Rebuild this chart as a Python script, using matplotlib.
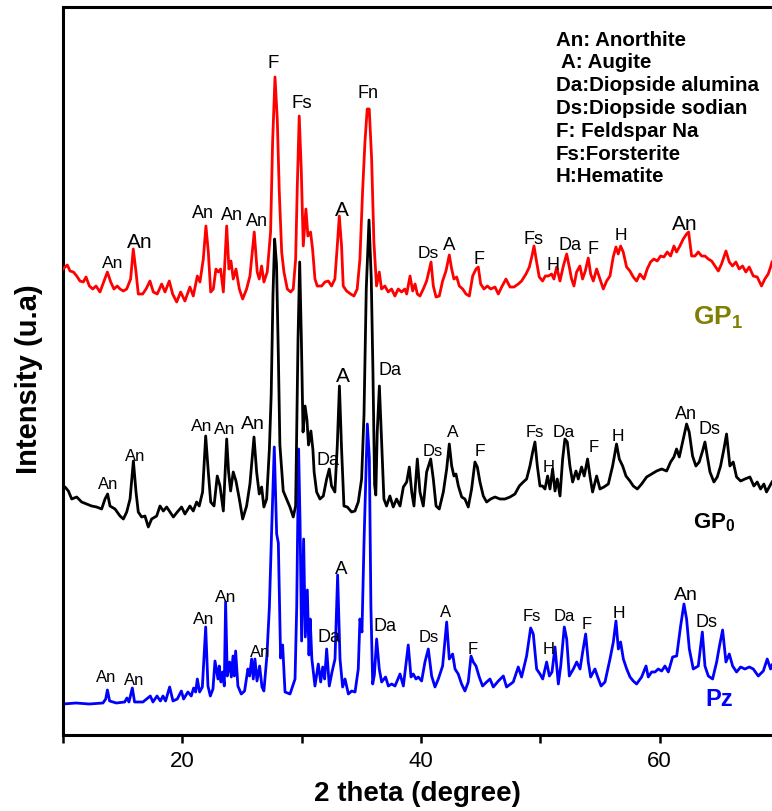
import matplotlib
matplotlib.use("Agg")
from matplotlib import pyplot as plt

plt.rcParams["font.family"] = "Liberation Sans"
plt.rcParams["mathtext.fontset"] = "custom"
plt.rcParams["mathtext.rm"] = "Liberation Sans"
plt.rcParams["mathtext.bf"] = "Liberation Sans:bold"

# ---- XRD traces (2 theta in degree, stacked intensity in a.u.) ----
pz_theta = [
    10.0, 11.1, 12.2, 13.35, 13.58, 13.72, 13.91, 14.47, 15.17, 15.36, 15.53, 15.81, 16.0, 16.7,
    17.32, 17.54, 17.88, 18.16, 18.38, 18.6, 18.94, 19.22, 19.58, 19.92, 20.11, 20.47, 20.75,
    20.95, 21.12, 21.26, 21.45, 21.68, 21.96, 22.15, 22.35, 22.57, 22.74, 22.88, 22.99, 23.1,
    23.24, 23.38, 23.52, 23.63, 23.77, 23.97, 24.11, 24.25, 24.36, 24.47, 24.66, 24.94, 25.22,
    25.5, 25.64, 25.81, 25.95, 26.09, 26.26, 26.48, 26.68, 26.84, 27.09, 27.3, 27.49, 27.71,
    27.91, 28.05, 28.24, 28.41, 28.61, 29.03, 29.45, 29.59, 29.75, 29.87, 30.0, 30.17, 30.31,
    30.48, 30.62, 30.72, 30.86, 31.12, 31.4, 31.6, 31.77, 31.93, 32.1, 32.32, 32.55, 32.8,
    33.02, 33.22, 33.44, 33.64, 33.92, 34.2, 34.48, 34.75, 34.89, 35.06, 35.23, 35.51, 35.68,
    35.81, 35.96, 36.1, 36.29, 36.51, 36.71, 37.04, 37.27, 37.55, 37.83, 38.25, 38.53, 38.94,
    39.17, 39.36, 39.59, 39.78, 40.06, 40.34, 40.62, 40.9, 41.18, 41.46, 41.82, 42.16, 42.38,
    42.66, 42.86, 43.13, 43.41, 43.69, 43.97, 44.2, 44.39, 44.62, 44.89, 45.17, 45.51, 45.79,
    46.07, 46.49, 46.91, 47.18, 47.74, 48.16, 48.44, 48.86, 49.2, 49.42, 49.7, 49.98, 50.21,
    50.54, 50.77, 50.99, 51.24, 51.52, 51.72, 52.02, 52.22, 52.44, 52.78, 53.06, 53.34, 53.56,
    53.81, 54.03, 54.23, 54.59, 54.82, 55.1, 55.43, 55.85, 56.13, 56.35, 56.55, 56.74, 56.97,
    57.25, 57.53, 57.8, 58.08, 58.5, 58.87, 59.06, 59.34, 59.62, 59.9, 60.18, 60.46, 60.74,
    61.1, 61.44, 61.77, 62.05, 62.27, 62.5, 62.83, 63.25, 63.59, 63.81, 64.09, 64.45, 64.79,
    65.01, 65.29, 65.57, 65.85, 66.13, 66.46, 66.8, 67.16, 67.53, 67.86, 68.28, 68.7, 69.03,
    69.31, 69.43,
]
pz_int = [
    31, 32, 31, 32, 36, 45, 34, 32, 33, 37, 33, 47, 33, 33,
    39, 33, 39, 34, 39, 34, 48, 34, 36, 44, 36, 43, 39,
    47, 43, 56, 43, 48, 108, 49, 39, 46, 74, 64, 56, 69,
    53, 63, 49, 133, 59, 73, 58, 79, 59, 84, 49, 41, 44,
    66, 59, 76, 56, 76, 54, 69, 48, 44, 79, 128, 205, 288,
    201, 192, 77, 90, 43, 41, 56, 128, 286, 213, 94, 196, 98,
    145, 80, 116, 76, 49, 71, 53, 68, 56, 86, 49, 63, 76,
    160, 76, 48, 56, 41, 44, 43, 66, 116, 103, 192, 311, 277,
    128, 51, 60, 96, 66, 53, 58, 49, 51, 49, 61, 49, 90,
    58, 61, 56, 58, 54, 73, 86, 59, 48, 56, 69, 113, 76,
    81, 66, 61, 51, 44, 53, 79, 73, 69, 58, 49, 53, 56,
    48, 54, 59, 48, 53, 68, 58, 79, 107, 101, 66, 61, 56,
    73, 59, 63, 88, 51, 69, 108, 96, 59, 66, 73, 66, 83,
    101, 73, 58, 66, 58, 49, 53, 76, 93, 114, 86, 93, 76,
    66, 58, 54, 51, 58, 69, 58, 63, 63, 66, 64, 69, 63,
    78, 79, 109, 131, 116, 86, 66, 69, 103, 69, 59, 56, 73,
    88, 105, 73, 81, 69, 63, 68, 66, 68, 66, 59, 64, 76,
    66, 70,
]

gp0_theta = [
    10.0, 10.17, 10.45, 10.73, 11.15, 11.56, 11.98, 12.4, 12.82, 13.24, 13.52, 13.74, 13.94,
    14.36, 14.78, 15.06, 15.34, 15.62, 15.9, 16.12, 16.31, 16.59, 16.87, 17.15, 17.43, 17.85,
    18.13, 18.41, 18.69, 18.97, 19.25, 19.58, 19.94, 20.22, 20.64, 20.92, 21.2, 21.42, 21.7,
    21.96, 22.18, 22.38, 22.66, 22.93, 23.16, 23.44, 23.72, 23.88, 24.05, 24.27, 24.5, 24.78,
    25.06, 25.39, 25.67, 26.01, 26.23, 26.45, 26.65, 26.84, 27.07, 27.3, 27.45, 27.6, 27.74,
    27.9, 28.05, 28.18, 28.46, 28.74, 29.02, 29.3, 29.5, 29.7, 29.84, 29.98, 30.12, 30.29,
    30.45, 30.58, 30.78, 30.95, 31.05, 31.26, 31.54, 31.82, 32.1, 32.32, 32.51, 32.79, 32.99,
    33.17, 33.35, 33.55, 33.83, 34.19, 34.47, 34.75, 35.03, 35.23, 35.42, 35.65, 35.84, 35.98,
    36.12, 36.22, 36.34, 36.52, 36.7, 36.9, 37.12, 37.4, 37.68, 37.96, 38.25, 38.53, 38.81,
    39.03, 39.23, 39.42, 39.7, 39.92, 40.2, 40.48, 40.82, 41.04, 41.27, 41.54, 41.88, 42.16,
    42.38, 42.58, 42.77, 42.94, 43.14, 43.42, 43.69, 43.97, 44.25, 44.53, 44.73, 44.95, 45.23,
    45.51, 45.85, 46.21, 46.63, 47.05, 47.47, 47.88, 48.25, 48.58, 48.86, 49.14, 49.37, 49.56,
    49.76, 49.98, 50.2, 50.4, 50.62, 50.82, 51.04, 51.24, 51.43, 51.66, 51.88, 52.07, 52.27,
    52.49, 52.72, 53.0, 53.19, 53.47, 53.69, 53.97, 54.17, 54.39, 54.73, 55.01, 55.34, 55.71,
    56.07, 56.4, 56.63, 56.91, 57.19, 57.52, 57.8, 58.14, 58.5, 58.92, 59.34, 59.76, 60.18,
    60.6, 60.93, 61.21, 61.43, 61.66, 61.94, 62.27, 62.49, 62.77, 63.05, 63.33, 63.61, 63.81,
    64.0, 64.23, 64.56, 64.84, 65.12, 65.4, 65.62, 65.9, 66.18, 66.46, 66.8, 67.16, 67.58,
    67.91, 68.19, 68.47, 68.75, 68.97, 69.25, 69.43,
]
gp0_int = [
    246, 248, 244, 236, 238, 233, 231, 229, 228, 226, 236, 241, 229,
    226, 219, 216, 223, 236, 274, 243, 223, 218, 219, 208, 216, 219,
    229, 224, 228, 223, 218, 223, 228, 221, 229, 224, 233, 229, 243,
    299, 263, 233, 229, 259, 249, 224, 296, 263, 244, 263, 254, 236,
    216, 229, 251, 298, 263, 241, 248, 228, 236, 286, 340, 440, 496,
    470, 380, 290, 244, 236, 228, 218, 229, 396, 473, 396, 303, 329,
    315, 290, 304, 285, 263, 243, 236, 239, 256, 266, 249, 243, 289,
    349, 286, 229, 228, 223, 224, 233, 256, 320, 446, 515, 456, 363,
    250, 240, 303, 349, 296, 236, 229, 239, 228, 236, 229, 248, 253,
    268, 243, 229, 276, 243, 229, 263, 276, 256, 229, 226, 243, 266,
    291, 269, 259, 261, 249, 238, 236, 228, 246, 273, 268, 253, 239,
    233, 236, 238, 236, 236, 238, 241, 249, 253, 256, 269, 283, 293,
    269, 249, 249, 246, 259, 246, 266, 244, 256, 239, 276, 296, 293,
    269, 253, 264, 256, 268, 259, 276, 259, 243, 259, 246, 248, 251,
    269, 291, 276, 269, 259, 254, 249, 246, 251, 258, 261, 264, 266,
    264, 273, 278, 286, 278, 293, 311, 303, 279, 269, 273, 284, 293,
    279, 263, 253, 258, 269, 286, 301, 269, 273, 258, 254, 256, 258,
    249, 253, 246, 251, 243, 249, 253,
]

gp1_theta = [
    10.0, 10.36, 10.59, 10.87, 11.15, 11.42, 11.7, 11.93, 12.21, 12.49, 12.77, 13.1, 13.44,
    13.72, 14.0, 14.27, 14.55, 14.78, 15.06, 15.34, 15.67, 15.89, 16.12, 16.31, 16.68, 16.96,
    17.29, 17.57, 17.9, 18.27, 18.55, 18.91, 19.19, 19.53, 19.86, 20.22, 20.64, 20.92, 21.26,
    21.48, 21.76, 21.98, 22.18, 22.38, 22.6, 22.82, 23.02, 23.21, 23.44, 23.72, 23.91, 24.08,
    24.27, 24.5, 24.78, 25.06, 25.39, 25.67, 26.03, 26.28, 26.45, 26.65, 26.84, 27.12, 27.4,
    27.57, 27.77, 27.96, 28.13, 28.33, 28.52, 28.8, 29.08, 29.3, 29.5, 29.64, 29.8, 29.97,
    30.14, 30.36, 30.53, 30.75, 30.92, 31.12, 31.31, 31.68, 31.96, 32.24, 32.51, 32.79, 32.99,
    33.16, 33.35, 33.49, 33.77, 34.11, 34.39, 34.66, 34.89, 35.11, 35.31, 35.5, 35.67, 35.87,
    36.06, 36.28, 36.51, 36.7, 36.98, 37.26, 37.54, 37.82, 38.1, 38.38, 38.65, 38.81, 39.09,
    39.31, 39.51, 39.7, 39.92, 40.2, 40.48, 40.85, 41.04, 41.27, 41.54, 41.82, 42.1, 42.38,
    42.58, 42.77, 43.0, 43.22, 43.5, 43.78, 44.06, 44.34, 44.62, 44.81, 45.01, 45.29, 45.57,
    45.85, 46.21, 46.49, 46.77, 47.13, 47.47, 47.8, 48.16, 48.44, 48.81, 49.09, 49.31, 49.48,
    49.7, 49.92, 50.2, 50.43, 50.68, 50.96, 51.15, 51.38, 51.66, 51.94, 52.22, 52.44, 52.63,
    52.83, 53.05, 53.33, 53.55, 53.78, 54.03, 54.23, 54.45, 54.73, 55.01, 55.29, 55.57, 55.85,
    56.12, 56.35, 56.54, 56.74, 56.96, 57.24, 57.52, 57.8, 58.08, 58.36, 58.7, 58.97, 59.25,
    59.53, 59.81, 60.09, 60.37, 60.65, 60.93, 61.21, 61.43, 61.71, 61.99, 62.27, 62.44, 62.69,
    62.97, 63.25, 63.53, 63.81, 64.09, 64.37, 64.65, 64.93, 65.2, 65.57, 65.85, 66.12, 66.4,
    66.68, 66.96, 67.24, 67.52, 67.86, 68.19, 68.55, 68.83, 69.11, 69.31, 69.43,
]
gp1_int = [
    466, 470, 464, 463, 459, 454, 453, 458, 449, 446, 449, 443, 454,
    463, 453, 446, 449, 446, 444, 446, 456, 486, 463, 441, 441, 446,
    454, 443, 441, 451, 443, 454, 441, 433, 443, 434, 448, 439, 459,
    453, 476, 509, 483, 443, 446, 466, 463, 466, 443, 509, 466, 474,
    456, 466, 446, 436, 446, 459, 503, 463, 456, 469, 453, 463, 503,
    593, 658, 616, 543, 483, 463, 446, 443, 446, 476, 549, 619, 566,
    489, 526, 499, 503, 486, 456, 449, 449, 453, 454, 449, 456, 489,
    519, 489, 449, 444, 441, 439, 446, 476, 543, 593, 626, 626, 576,
    493, 449, 463, 446, 449, 443, 446, 439, 446, 443, 446, 441, 459,
    444, 451, 441, 439, 446, 454, 473, 449, 438, 439, 454, 464, 480,
    466, 456, 458, 449, 446, 441, 439, 459, 466, 468, 451, 446, 449,
    446, 448, 441, 448, 456, 448, 448, 451, 454, 461, 468, 479, 489,
    473, 458, 454, 459, 459, 461, 456, 468, 454, 469, 481, 468, 456,
    449, 463, 469, 456, 464, 477, 461, 454, 466, 456, 446, 454, 459,
    478, 488, 481, 489, 483, 468, 464, 458, 454, 461, 456, 466, 473,
    476, 474, 479, 478, 483, 479, 489, 483, 489, 496, 501, 503, 479,
    479, 483, 479, 479, 476, 474, 469, 464, 471, 484, 473, 469, 473,
    466, 469, 463, 468, 459, 458, 449, 456, 461, 468, 473,
]

# ---- phase labels: (text, 2 theta, intensity) ----
pz_peaks = [
    ("An", 13.6, 58), ("An", 15.95, 55), ("An", 21.82, 116), ("An", 23.66, 138),
    ("An", 26.51, 83), ("Da", 32.3, 98), ("A", 33.3, 167), ("Da", 36.99, 109),
    ("Ds", 40.68, 98), ("A", 42.1, 123), ("F", 44.37, 86), ("Fs", 49.31, 119),
    ("H", 50.74, 86), ("Da", 51.99, 119), ("F", 53.92, 111), ("H", 56.61, 122),
    ("An", 62.22, 140), ("Ds", 63.98, 113),
]
pz_sizes = [12, 12, 12.5, 12.5, 12, 13, 13.5, 13, 12, 12, 12, 12, 12, 12, 12, 12.5, 14, 13]

gp0_peaks = [
    ("An", 13.77, 251), ("An", 16.04, 279), ("An", 21.65, 309), ("An", 23.58, 306),
    ("An", 25.93, 311), ("Da", 32.21, 275), ("A", 33.47, 359), ("Da", 37.41, 365),
    ("Ds", 41.01, 284), ("A", 42.69, 303), ("F", 44.95, 284), ("Fs", 49.56, 303),
    ("H", 50.74, 268), ("Da", 51.99, 303), ("F", 54.51, 288), ("H", 56.52, 299),
    ("An", 62.22, 321), ("Ds", 64.15, 306),
]
gp0_sizes = [12, 12, 12.5, 12.5, 14, 13, 15, 13, 12, 12.5, 12.5, 12, 12, 12.5, 12, 12.5, 13, 13]

gp1_peaks = [
    ("An", 14.19, 473), ("An", 16.45, 494), ("An", 21.74, 522), ("An", 24.17, 521),
    ("An", 26.26, 514), ("F", 27.6, 673), ("Fs", 30.03, 632), ("A", 33.39, 526),
    ("Fn", 35.57, 642), ("Ds", 40.6, 483), ("A", 42.36, 490), ("F", 44.87, 477),
    ("Fs", 49.48, 496), ("H", 51.07, 470), ("Da", 52.5, 490), ("F", 54.43, 487),
    ("H", 56.77, 501), ("An", 62.14, 512),
]
gp1_sizes = [12.5, 15, 13, 13, 13, 13.5, 13.5, 15, 13, 12.5, 13.5, 13, 13, 13, 13, 13, 12.5, 15]

phase_key = [
    "An: Anorthite",
    " A: Augite",
    "Da:Diopside alumina",
    "Ds:Diopside sodian",
    "F: Feldspar Na",
    "Fs:Forsterite",
    "H:Hematite",
]

W, H = 772, 812
fig = plt.figure(figsize=(W / 100, H / 100), dpi=100)
ax = fig.add_axes([63 / W, 1 - 736 / H, (W - 63) / W, (736 - 8) / H])

ax.plot(pz_theta, pz_int, color="#0000ff", lw=2.0, zorder=2)
ax.plot(gp1_theta, gp1_int, color="#ff0000", lw=2.0, zorder=3)
ax.plot(gp0_theta, gp0_int, color="black", lw=2.0, zorder=4)

for peaks, sizes in ((pz_peaks, pz_sizes), (gp0_peaks, gp0_sizes), (gp1_peaks, gp1_sizes)):
    for (lab, x, y), s in zip(peaks, sizes):
        ax.text(x, y, lab, fontsize=s, ha="center", va="center", zorder=5)

ax.text(64.9, 418, r"GP$_\mathbf{1}$", color="#808000", fontsize=19,
        fontweight="bold", ha="center", va="center")
ax.text(64.6, 213, r"GP$_\mathbf{0}$", color="black", fontsize=16,
        fontweight="bold", ha="center", va="center")
ax.text(65.0, 36, "Pz", color="#0000ff", fontsize=17,
        fontweight="bold", ha="center", va="center")

for i, line in enumerate(phase_key):
    fig.text(556 / W, 1 - (40 + 22.8 * i) / H, line, fontsize=14.8,
             fontweight="bold", ha="left", va="center")

ax.set_xlim(10, 69.43)
ax.set_ylim(0, 728)
ax.set_yticks([])
ax.set_xticks([20, 40, 60])
ax.set_xticks([10, 30, 50], minor=True)
ax.tick_params(axis="x", which="both", direction="out", length=6, width=1.8,
               labelsize=16, pad=5)
for side in ("left", "bottom", "top"):
    ax.spines[side].set_linewidth(2.2)
ax.spines["right"].set_visible(False)

ax.set_xlabel("2 theta (degree)", fontsize=20, fontweight="bold")
ax.set_ylabel("Intensity (u.a)", fontsize=21, fontweight="bold")
ax.xaxis.set_label_coords(0.5, -0.062)
ax.yaxis.set_label_coords(-0.028, 0.49)

fig.savefig("out.png", dpi=100)
